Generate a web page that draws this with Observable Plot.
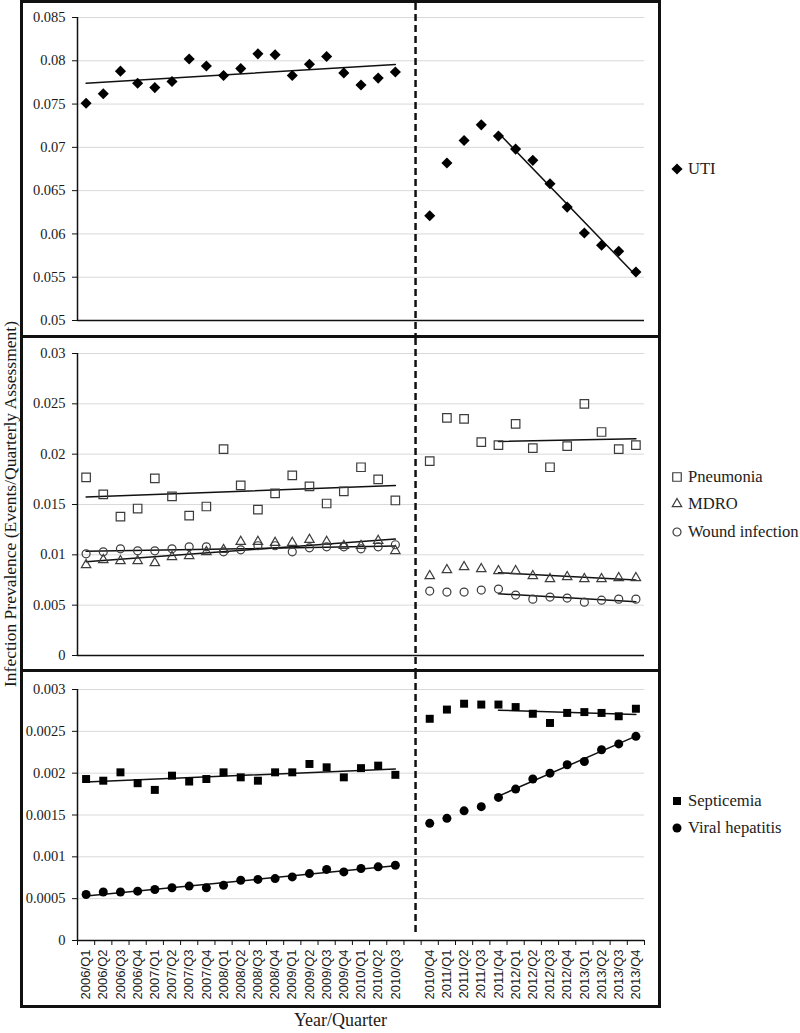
<!DOCTYPE html>
<html>
<head>
<meta charset="utf-8">
<script src="https://cdn.jsdelivr.net/npm/d3@7"></script>
<script src="https://cdn.jsdelivr.net/npm/@observablehq/plot@0.6"></script>
<style>
  body { margin: 0; background: #fff; }
  #wrap { position: relative; width: 800px; height: 1033px; overflow: hidden; font-family: "Liberation Serif", serif; color: #1a1a1a; }
  #box { position: absolute; left: 20px; top: 0; width: 641px; height: 1008px; box-sizing: border-box; border: 3px solid #111; }
  .panel { position: absolute; left: 0; width: 635px; }
  .sep { position: absolute; left: 0; width: 635px; height: 3px; background: #111; }
  #ylabel { position: absolute; left: 10px; top: 504px; transform: translate(-50%, -50%) rotate(-90deg); white-space: nowrap; font-size: 17.5px; line-height: 18px; }
  #xlabel { position: absolute; left: 20px; width: 641px; top: 1008px; text-align: center; font-size: 18px; line-height: 24px; }
  .leg { position: absolute; left: 670px; height: 20px; display: flex; align-items: center; white-space: nowrap; font-size: 16.6px; color: #222; }
  .leg svg { width: 14px; height: 14px; margin-right: 4px; overflow: visible; }
</style>
</head>
<body>
<div id="wrap">
  <div id="ylabel">Infection Prevalence (Events/Quarterly Assessment)</div>
  <div id="box"></div>
  <div id="xlabel">Year/Quarter</div>
</div>
<script>
// ---------------- data ----------------
const quarters = ["2006/Q1","2006/Q2","2006/Q3","2006/Q4","2007/Q1","2007/Q2","2007/Q3","2007/Q4",
  "2008/Q1","2008/Q2","2008/Q3","2008/Q4","2009/Q1","2009/Q2","2009/Q3","2009/Q4",
  "2010/Q1","2010/Q2","2010/Q3","2010/Q4","2011/Q1","2011/Q2","2011/Q3","2011/Q4",
  "2012/Q1","2012/Q2","2012/Q3","2012/Q4","2013/Q1","2013/Q2","2013/Q3","2013/Q4"];

const uti = [0.0751,0.0762,0.0788,0.0774,0.0769,0.0776,0.0802,0.0794,0.0783,0.0791,0.0808,0.0807,0.0783,0.0796,0.0805,0.0786,0.0772,0.0780,0.0787,
  0.0621,0.0682,0.0708,0.0726,0.0713,0.0698,0.0685,0.0658,0.0631,0.0601,0.0587,0.0580,0.0556];
const pneumonia = [0.0177,0.0160,0.0138,0.0146,0.0176,0.0158,0.0139,0.0148,0.0205,0.0169,0.0145,0.0161,0.0179,0.0168,0.0151,0.0163,0.0187,0.0175,0.0154,
  0.0193,0.0236,0.0235,0.0212,0.0209,0.0230,0.0206,0.0187,0.0208,0.0250,0.0222,0.0205,0.0209];
const mdro = [0.0090,0.0095,0.0094,0.0094,0.0092,0.0098,0.0099,0.0103,0.0105,0.0113,0.0113,0.0112,0.0112,0.0115,0.0113,0.0109,0.0109,0.0114,0.0104,
  0.0079,0.0085,0.0088,0.0086,0.0084,0.0084,0.0079,0.0076,0.0078,0.0076,0.0076,0.0077,0.0077];
const wound = [0.0101,0.0103,0.0106,0.0104,0.0104,0.0106,0.0108,0.0108,0.0103,0.0105,0.0109,0.0109,0.0103,0.0107,0.0108,0.0108,0.0106,0.0108,0.0110,
  0.0064,0.0063,0.0063,0.0065,0.0066,0.0060,0.0056,0.0058,0.0057,0.0053,0.0055,0.0056,0.0056];
const septicemia = [0.00193,0.00191,0.00201,0.00188,0.00180,0.00197,0.00190,0.00193,0.00201,0.00195,0.00191,0.00201,0.00201,0.00211,0.00207,0.00195,0.00206,0.00209,0.00198,
  0.00265,0.00276,0.00283,0.00282,0.00282,0.00279,0.00271,0.00260,0.00272,0.00273,0.00272,0.00268,0.00277];
const hepatitis = [0.00055,0.00058,0.00058,0.00059,0.00061,0.00063,0.00065,0.00063,0.00066,0.00072,0.00073,0.00074,0.00076,0.00080,0.00085,0.00082,0.00086,0.00088,0.00090,
  0.00140,0.00146,0.00155,0.00160,0.00171,0.00181,0.00193,0.00200,0.00210,0.00214,0.00228,0.00235,0.00244];

const utiTicks = [0.05,0.055,0.06,0.065,0.07,0.075,0.08,0.085];
const midTicks = [0,0.005,0.01,0.015,0.02,0.025,0.03];
const lowTicks = [0,0.0005,0.001,0.0015,0.002,0.0025,0.003];

const breakIndex = 19;     // first quarter after the break (2010/Q4)
const postFitStart = 23;   // post-period trend starts at 2011/Q4

// ---------------- table ----------------
const rows = quarters.map((q, i) => ({
  q, i,
  x: i < breakIndex ? i : i + 1,       // leave one empty slot for the break
  seg: i < breakIndex ? "pre" : "post",
  fit: i < breakIndex || i >= postFitStart,
  uti: uti[i], pneumonia: pneumonia[i], mdro: mdro[i], wound: wound[i],
  septicemia: septicemia[i], hepatitis: hepatitis[i]
}));
const labelByX = new Map(rows.map(d => [d.x, d.q]));
const gapX = breakIndex;
const xDomain = [-0.5, quarters.length + 0.5];

const panels = [
  { top: 0, height: 332, marginTop: 14, marginBottom: 15, domain: [0.05, 0.085], ticks: utiTicks, dashBottom: -15, xAxis: false,
    series: [ {key: "uti", label: "UTI", symbol: "diamond2", r: 5, fill: "#000", stroke: "none", sw: 0} ] },
  { top: 335, height: 331, marginTop: 15, marginBottom: 14, domain: [0, 0.03], ticks: midTicks, dashBottom: -14, xAxis: false,
    series: [
      {key: "pneumonia", label: "Pneumonia", symbol: "square", r: 4.8, fill: "none", stroke: "#3c3c3c", sw: 1.2},
      {key: "mdro", label: "MDRO", symbol: "triangle2", r: 4.5, fill: "none", stroke: "#3c3c3c", sw: 1.2},
      {key: "wound", label: "Wound infection", symbol: "circle", r: 4, fill: "none", stroke: "#3c3c3c", sw: 1.2}
    ] },
  { top: 669, height: 333, marginTop: 17, marginBottom: 65, domain: [0, 0.003], ticks: lowTicks, dashBottom: 8, xAxis: true,
    series: [
      {key: "septicemia", label: "Septicemia", symbol: "square", r: 4.5, fill: "#000", stroke: "none", sw: 0},
      {key: "hepatitis", label: "Viral hepatitis", symbol: "circle", r: 4.5, fill: "#000", stroke: "none", sw: 0}
    ] }
];

const box = document.getElementById("box");
const wrap = document.getElementById("wrap");
const d3sym = { diamond2: d3.symbolDiamond2, square: d3.symbolSquare, triangle2: d3.symbolTriangle2, circle: d3.symbolCircle };

panels.forEach((p, k) => {
  const marks = [
    Plot.ruleY(p.ticks.slice(1), {stroke: "#d9d9d9", strokeWidth: 1}),
    Plot.ruleX([gapX], {dx: 3, stroke: "#111", strokeWidth: 2.5, strokeDasharray: "7,4", insetTop: -p.marginTop, insetBottom: p.dashBottom}),
    Plot.ruleY([p.domain[0]], {stroke: "#111", strokeWidth: 1.5}),
    Plot.ruleX([xDomain[0]], {stroke: "#111", strokeWidth: 1.5}),
    Plot.axisY({ticks: p.ticks, tickFormat: d => String(d), tickSize: 5, tickPadding: 7, label: null, stroke: "#111",
      fontFamily: "Liberation Serif", fontSize: 14.5})
  ];
  for (const s of p.series) {
    marks.push(Plot.linearRegressionY(rows.filter(d => d.fit), {x: "x", y: s.key, z: "seg", stroke: "#111", strokeWidth: 1.5, ci: 0}));
  }
  for (const s of p.series) {
    marks.push(Plot.dot(rows, {x: "x", y: s.key, symbol: s.symbol, r: s.r, fill: s.fill, stroke: s.stroke, strokeWidth: s.sw}));
  }
  if (p.xAxis) {
    marks.push(Plot.axisX({ticks: d3.range(xDomain[0], xDomain[1] + 0.5, 1), tickSize: 5, tickFormat: () => "", stroke: "#111", label: null}));
    marks.push(Plot.axisX({ticks: rows.map(d => d.x), tickFormat: x => labelByX.get(x), tickRotate: -90, tickSize: 0, tickPadding: 9,
      fontSize: 13, fontFamily: "Liberation Sans", label: null}));
  }
  const chart = Plot.plot({
    width: 635, height: p.height,
    marginLeft: 54, marginRight: 14, marginTop: p.marginTop, marginBottom: p.marginBottom,
    x: p.xAxis ? {type: "linear", domain: xDomain} : {type: "linear", domain: xDomain, axis: null},
    y: {domain: p.domain},
    style: {fontFamily: "Liberation Serif", fontSize: "14.5px", color: "#1a1a1a", background: "transparent", overflow: "visible"},
    marks
  });
  const div = document.createElement("div");
  div.className = "panel";
  div.style.top = p.top + "px";
  div.style.height = p.height + "px";
  div.appendChild(chart);
  box.appendChild(div);
  if (k < panels.length - 1) {
    const sep = document.createElement("div");
    sep.className = "sep";
    sep.style.top = (p.top + p.height) + "px";
    box.appendChild(sep);
  }

  // legend, centred on the panel's plot area, outside the box
  const plotTop = 3 + p.top + p.marginTop;
  const plotBottom = 3 + p.top + p.height - p.marginBottom;
  const cy = (plotTop + plotBottom) / 2;
  const step = 27.5;
  p.series.forEach((s, j) => {
    const y = cy + (j - (p.series.length - 1) / 2) * step;
    const row = document.createElement("div");
    row.className = "leg";
    row.style.top = (y - 10) + "px";
    const path = d3.symbol(d3sym[s.symbol], Math.PI * s.r * s.r)();
    row.innerHTML = `<svg viewBox="-7 -7 14 14"><path d="${path}" fill="${s.fill}" stroke="${s.stroke}" stroke-width="${s.sw}"></path></svg>`;
    const t = document.createElement("span");
    t.textContent = s.label;
    row.appendChild(t);
    wrap.appendChild(row);
  });
});
</script>
</body>
</html>
